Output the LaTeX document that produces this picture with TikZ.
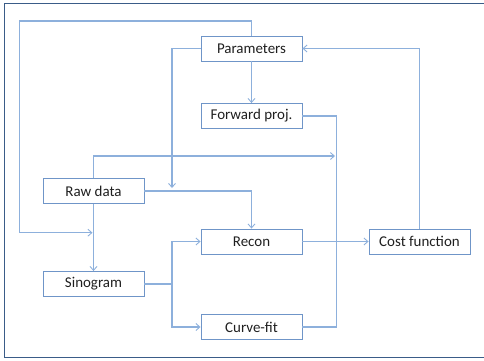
\documentclass[tikz,border=0pt]{standalone}
\usepackage{fontspec}
\setmainfont{Carlito}
\usetikzlibrary{arrows.meta}
\definecolor{boxblue}{HTML}{6F95C8}
\definecolor{lineblue}{HTML}{8DB0DC}
\definecolor{frameblue}{HTML}{3A5C88}
\definecolor{txt}{HTML}{1F1F1F}
\begin{document}
\begin{tikzpicture}[x=1bp,y=-1bp,
  box/.style={draw=boxblue,line width=0.9bp,minimum width=101bp,minimum height=25bp,inner sep=0pt,
    font=\fontsize{15}{18}\selectfont,text=txt,fill=white},
  conn/.style={draw=lineblue,line width=1.1bp},
  arr/.style={conn,-{Straight Barb[length=4bp,width=7bp,line width=0.9bp]}}]
\useasboundingbox (0,0) rectangle (484,360);
\draw[frameblue,line width=1.8bp] (520,3.5) -- (4.5,3.5) -- (4.5,357.5) -- (520,357.5);
\node[box] (par) at (251.5,48.5) {Parameters};
\node[box] (fwd) at (251.5,116) {Forward proj.};
\node[box] (raw) at (93.5,191) {Raw data};
\node[box] (sino) at (93.5,284) {Sinogram};
\node[box] (rec) at (251.5,241.5) {Recon};
\node[box] (cfit) at (251.5,327) {Curve-fit};
\node[box] (cost) at (419.5,241.5) {Cost function};
\coordinate (a1) at (172,188);
\coordinate (a2) at (92.5,232.7);
\coordinate (a3) at (335,156);
% Parameters -> down loop
\draw[arr] (par.west) -| (a1);
% Top loop to raw->sino line
\draw[arr] (par.north) |- (19.3,21) |- (a2);
% Parameters -> Forward proj
\draw[arr] (par) -- (fwd);
% Forward proj -> curve-fit
\draw[conn] (fwd.east) -| (336.3,327) -- (cfit.east);
% Raw data top -> right arrow
\draw[arr] (raw.north) |- (a3);
% Raw data -> Recon
\draw[arr] (raw.east) -| (rec.north);
% Raw data -> Sinogram
\draw[arr] (raw) -- (sino);
% Sinogram -> Recon / Curve-fit
\draw[conn] (sino.east) -- (172,284);
\draw[arr] (172,284) |- (rec.west);
\draw[arr] (172,284) |- (cfit.west);
% Recon -> Cost
\draw[arr] (rec) -- (cost);
% Cost -> Parameters
\draw[arr] (cost.north) |- (par.east);
\end{tikzpicture}
\end{document}
